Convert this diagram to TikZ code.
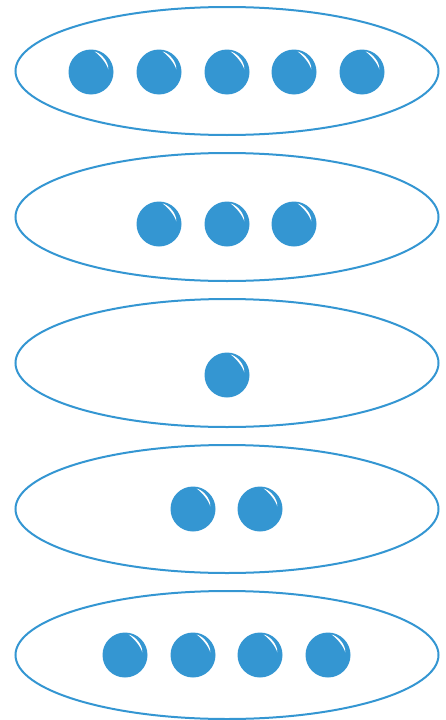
\documentclass[tikz,border=0pt]{standalone}
\usetikzlibrary{shapes.geometric}
\definecolor{ballblue}{HTML}{3496D2}
\tikzset{
  ell/.style={ellipse, draw=ballblue, line width=2pt, minimum width=423pt, minimum height=128pt, inner sep=0pt},
  ball/.style={circle, fill=ballblue, minimum size=45pt, inner sep=0pt,
    path picture={\fill[white, shift={(path picture bounding box.center)}] (80:20.8pt) .. controls (62:21.5pt) and (30:20.5pt) .. (9:17.5pt) .. controls (30:17.8pt) and (60:18.8pt) .. cycle;}}
}
\begin{document}
\begin{tikzpicture}[x=1pt,y=-1pt]
\useasboundingbox (0,0) rectangle (445,720);
\node[ell] (e1) at (227,71) {};
\node[ell] (e2) at (227,217) {};
\node[ell] (e3) at (227,363) {};
\node[ell] (e4) at (227,509) {};
\node[ell] (e5) at (227,655) {};
\foreach \x [count=\i] in {91,159,227,294,362} \node[ball] (a\i) at (\x,72) {};
\foreach \x [count=\i] in {159,227,294} \node[ball] (b\i) at (\x,224) {};
\node[ball] (c1) at (227,375) {};
\foreach \x [count=\i] in {193,260} \node[ball] (d\i) at (\x,509) {};
\foreach \x [count=\i] in {125,193,260,328} \node[ball] (f\i) at (\x,655) {};
\end{tikzpicture}
\end{document}
